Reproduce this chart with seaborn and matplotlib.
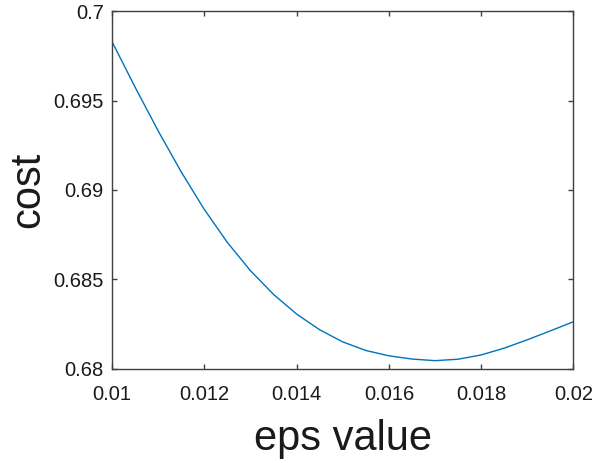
import matplotlib
matplotlib.use("Agg")
import matplotlib.pyplot as plt
import seaborn as sns
import pandas as pd

eps_values = [0.0100, 0.0105, 0.0110, 0.0115, 0.0120, 0.0125, 0.0130, 0.0135,
              0.0140, 0.0145, 0.0150, 0.0155, 0.0160, 0.0165, 0.0170, 0.0175,
              0.0180, 0.0185, 0.0190, 0.0195, 0.0200]
cost_values = [0.69831, 0.69576, 0.69331, 0.69101, 0.68891, 0.68706, 0.68548, 0.68415,
               0.68305, 0.68217, 0.68149, 0.68101, 0.68071, 0.68053, 0.68044, 0.68052,
               0.68076, 0.68114, 0.68161, 0.68211, 0.68262]
x_ticks = [0.01, 0.012, 0.014, 0.016, 0.018, 0.02]
x_tick_labels = ["0.01", "0.012", "0.014", "0.016", "0.018", "0.02"]
y_ticks = [0.68, 0.685, 0.69, 0.695, 0.7]
y_tick_labels = ["0.68", "0.685", "0.69", "0.695", "0.7"]

sns.set_theme(style="white")
plt.rcParams["font.family"] = ["Liberation Sans", "DejaVu Sans"]

df = pd.DataFrame({"eps": eps_values, "cost": cost_values})

fig = plt.figure(figsize=(6, 4.63), dpi=100)
ax = fig.add_axes([0.1867, 0.2041, 0.9558 - 0.1867, 0.9752 - 0.2041])
sns.lineplot(data=df, x="eps", y="cost", ax=ax, color="#0072BD", linewidth=1.0)

ax.set_xlim(0.01, 0.02)
ax.set_ylim(0.68, 0.7)
ax.set_xticks(x_ticks)
ax.set_xticklabels(x_tick_labels)
ax.set_yticks(y_ticks)
ax.set_yticklabels(y_tick_labels)

axis_col = "#404040"
for s in ax.spines.values():
    s.set_visible(True)
    s.set_color(axis_col)
    s.set_linewidth(1.0)
ax.tick_params(axis="both", which="major", direction="in", length=3.6, width=1.0,
               color=axis_col, labelsize=14.5, labelcolor="#1a1a1a",
               top=True, right=True, bottom=True, left=True)
ax.tick_params(axis="x", pad=12)
ax.tick_params(axis="y", pad=6)

ax.set_xlabel("eps value", fontsize=30, color="#1a1a1a", labelpad=11)
ax.set_ylabel("cost", fontsize=30, color="#1a1a1a", labelpad=4)
ax.grid(False)

fig.savefig("out.png", dpi=100)
